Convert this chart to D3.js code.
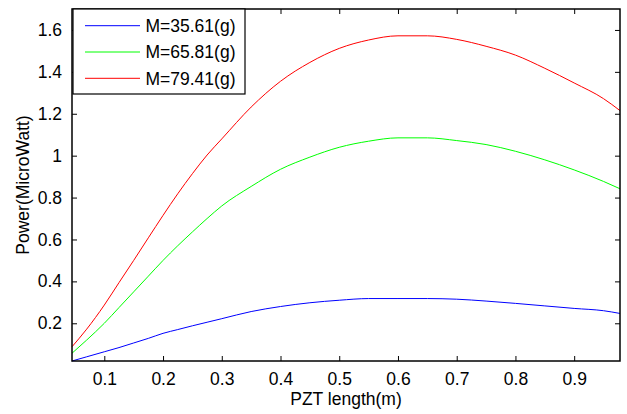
<!DOCTYPE html>
<html lang="en">
<head>
    <meta charset="UTF-8">
    <title>PZT length vs Power</title>
    <script src="https://d3js.org/d3.v7.min.js"></script>
    <style>
        html, body {
            margin: 0;
            background: #fff;
        }
        svg text {
            font-family: "Liberation Sans", Arial, sans-serif;
            font-size: 17.5px;
            fill: #000;
        }
    </style>
</head>
<body>
<div id="vis"></div>
<script>
    // PZT length (m)
    var lengths = [0.045, 0.07, 0.1, 0.125, 0.15, 0.175, 0.2, 0.225, 0.25, 0.275, 0.3, 0.35, 0.4,
                   0.45, 0.5, 0.55, 0.6, 0.65, 0.7, 0.75, 0.8, 0.85, 0.9, 0.95, 0.978];
    // power (MicroWatt) per mass
    var powerM35 = [0.02, 0.04, 0.064, 0.084, 0.106, 0.128, 0.152, 0.17, 0.188, 0.205, 0.222, 0.256, 0.28,
                    0.298, 0.31, 0.318, 0.318, 0.318, 0.315, 0.306, 0.295, 0.283, 0.271, 0.26, 0.247];
    var powerM65 = [0.057, 0.12, 0.2, 0.275, 0.35, 0.425, 0.5, 0.57, 0.636, 0.70, 0.76, 0.853, 0.935,
                    0.993, 1.04, 1.069, 1.085, 1.085, 1.072, 1.053, 1.021, 0.98, 0.932, 0.877, 0.842];
    var powerM79 = [0.088, 0.172, 0.287, 0.394, 0.50, 0.608, 0.715, 0.818, 0.914, 1.003, 1.08, 1.232, 1.355,
                    1.445, 1.512, 1.552, 1.572, 1.572, 1.555, 1.522, 1.48, 1.417, 1.347, 1.272, 1.215];
    var seriesNames = ["M=35.61(g)", "M=65.81(g)", "M=79.41(g)"];
    var seriesColors = ["#0000ff", "#00ff00", "#ff0000"];
    var xTicks = [0.1, 0.2, 0.3, 0.4, 0.5, 0.6, 0.7, 0.8, 0.9];
    var yTicks = [0.2, 0.4, 0.6, 0.8, 1, 1.2, 1.4, 1.6];

    var W = 627, H = 414;
    var margin = {top: 9, right: 7, bottom: 53, left: 72};
    var width = W - margin.left - margin.right;
    var height = H - margin.top - margin.bottom;

    var svg = d3.select("#vis").append("svg")
        .attr("width", W)
        .attr("height", H);

    var g = svg.append("g")
        .attr("transform", "translate(" + margin.left + "," + margin.top + ")");

    var x = d3.scaleLinear().domain([0.045, 0.978]).range([0, width]);
    var y = d3.scaleLinear().domain([0.02, 1.7]).range([height, 0]);

    var series = [powerM35, powerM65, powerM79];

    var line = d3.line()
        .x(function(d, i) { return x(lengths[i]); })
        .y(function(d) { return y(d); })
        .curve(d3.curveMonotoneX);

    g.selectAll(".series")
        .data(series)
        .enter()
        .append("path")
        .attr("class", "series")
        .attr("fill", "none")
        .attr("stroke", function(d, i) { return seriesColors[i]; })
        .attr("stroke-width", 1)
        .attr("d", line);

    // axes with inward ticks, matlab style box
    var fmt = function(d) { return d3.format("")(d); };

    g.append("g")
        .attr("transform", "translate(0," + height + ")")
        .call(d3.axisBottom(x).tickValues(xTicks).tickSize(-5).tickPadding(12).tickFormat(fmt));
    g.append("g")
        .call(d3.axisTop(x).tickValues(xTicks).tickSize(-5).tickFormat(""));
    g.append("g")
        .call(d3.axisLeft(y).tickValues(yTicks).tickSize(-5).tickPadding(10).tickFormat(fmt));
    g.append("g")
        .attr("transform", "translate(" + width + ",0)")
        .call(d3.axisRight(y).tickValues(yTicks).tickSize(-5).tickFormat(""));

    g.selectAll(".domain").remove();
    g.selectAll(".tick line").attr("stroke", "#000");
    g.selectAll(".tick text")
        .style("font-family", "'Liberation Sans', Arial, sans-serif")
        .style("font-size", "17.5px");

    g.append("rect")
        .attr("x", 0)
        .attr("y", 0)
        .attr("width", width)
        .attr("height", height)
        .attr("fill", "none")
        .attr("stroke", "#000")
        .attr("stroke-width", 1.5);

    // axis labels
    svg.append("text")
        .attr("x", margin.left + width / 2)
        .attr("y", 405)
        .attr("text-anchor", "middle")
        .text("PZT length(m)");

    svg.append("text")
        .attr("transform", "translate(29," + (margin.top + height / 2) + ")rotate(-90)")
        .attr("text-anchor", "middle")
        .text("Power(MicroWatt)");

    // legend
    var legend = g.append("g").attr("transform", "translate(1,0)");
    legend.append("rect")
        .attr("x", 0)
        .attr("y", 0)
        .attr("width", 172)
        .attr("height", 85)
        .attr("fill", "#fff")
        .attr("stroke", "#000")
        .attr("stroke-width", 1.2);

    var rows = legend.selectAll(".row")
        .data(seriesNames)
        .enter()
        .append("g")
        .attr("class", "row")
        .attr("transform", function(d, i) { return "translate(0," + (16.7 + i * 26.3) + ")"; });

    rows.append("line")
        .attr("x1", 12)
        .attr("x2", 67)
        .attr("stroke", function(d, i) { return seriesColors[i]; })
        .attr("stroke-width", 1);

    rows.append("text")
        .attr("x", 72.5)
        .attr("dy", "0.36em")
        .text(function(d) { return d; });
</script>
</body>
</html>
